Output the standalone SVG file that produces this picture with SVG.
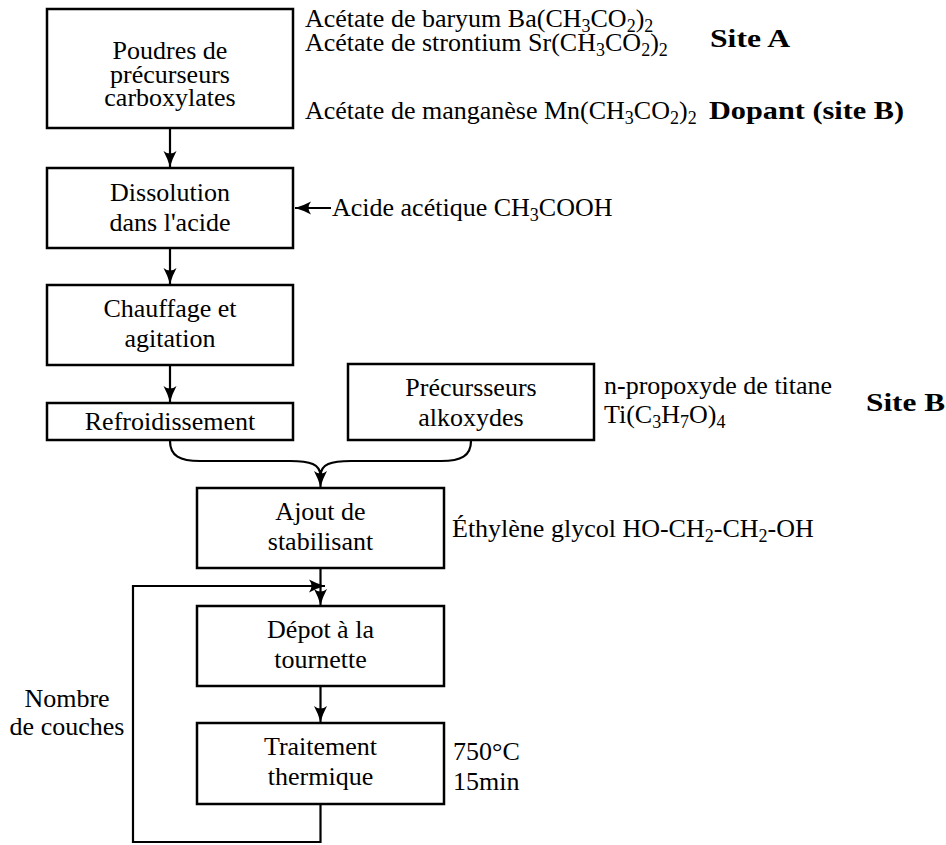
<svg xmlns="http://www.w3.org/2000/svg" width="946" height="845" viewBox="0 0 946 845" font-family="'Liberation Serif', 'DejaVu Serif', serif">
<style>
text{font-family:'Liberation Serif','DejaVu Serif',serif;font-size:26px;fill:#000}
.c{text-anchor:middle}
.b{font-weight:bold}
.sub{font-size:18px}
.box{fill:#fff;stroke:#000;stroke-width:2.5}
.ln{fill:none;stroke:#000;stroke-width:2.2}
</style>
<defs>
<marker id="ah" markerUnits="userSpaceOnUse" viewBox="-17 -7 18 14" refX="0" refY="0" markerWidth="18" markerHeight="14" orient="auto">
<path d="M0,0 Q-8,-2.2 -16,-6.5 Q-11,0 -16,6.5 Q-8,2.2 0,0 Z" fill="#000"/>
</marker>
</defs>
<rect width="946" height="845" fill="#fff"/>

<g id="connectors">
<path class="ln" d="M170,128 L170,167" marker-end="url(#ah)"/>
<path class="ln" d="M170,248 L170,284" marker-end="url(#ah)"/>
<path class="ln" d="M170,365 L170,402" marker-end="url(#ah)"/>
<path class="ln" d="M331,208 L295,208" marker-end="url(#ah)"/>
<path class="ln" d="M170,441 C170,456 180,461 200,461 L290,461 C310,461 320.5,464 320.5,476"/>
<path class="ln" d="M471,441 C471,456 461,461 441,461 L351,461 C331,461 320.5,464 320.5,476"/>
<path class="ln" d="M320.5,470 L320.5,487" marker-end="url(#ah)"/>
<path class="ln" d="M320.5,568 L320.5,605" marker-end="url(#ah)"/>
<path class="ln" d="M320.5,686 L320.5,722" marker-end="url(#ah)"/>
<path class="ln" d="M320.5,804 L320.5,842 L133,842 L133,586 L325,586" marker-end="url(#ah)"/>
</g>

<g id="n1">
<rect class="box" x="47" y="9" width="246" height="119"/>
<text class="c" x="170" y="59">Poudres de</text>
<text class="c" x="170" y="83">précurseurs</text>
<text class="c" x="170" y="106">carboxylates</text>
</g>
<g id="n1-labels">
<text x="305" y="27">Acétate de baryum Ba(CH<tspan class="sub" dy="5">3</tspan><tspan dy="-5">CO</tspan><tspan class="sub" dy="5">2</tspan><tspan dy="-5">)</tspan><tspan class="sub" dy="5">2</tspan></text>
<text x="305" y="51">Acétate de strontium Sr(CH<tspan class="sub" dy="5">3</tspan><tspan dy="-5">CO</tspan><tspan class="sub" dy="5">2</tspan><tspan dy="-5">)</tspan><tspan class="sub" dy="5">2</tspan></text>
<text x="305" y="119">Acétate de manganèse Mn(CH<tspan class="sub" dy="5">3</tspan><tspan dy="-5">CO</tspan><tspan class="sub" dy="5">2</tspan><tspan dy="-5">)</tspan><tspan class="sub" dy="5">2</tspan></text>
<text class="b" x="710" y="47" textLength="80" lengthAdjust="spacingAndGlyphs">Site A</text>
<text class="b" x="709" y="119" textLength="195" lengthAdjust="spacingAndGlyphs">Dopant (site B)</text>
</g>

<g id="n2">
<rect class="box" x="47" y="168" width="246" height="80"/>
<text class="c" x="170" y="201">Dissolution</text>
<text class="c" x="170" y="231">dans l'acide</text>
</g>
<g id="n2-label">
<text x="332" y="216">Acide acétique CH<tspan class="sub" dy="5">3</tspan><tspan dy="-5">COOH</tspan></text>
</g>

<g id="n3">
<rect class="box" x="47" y="285" width="246" height="80"/>
<text class="c" x="170" y="317">Chauffage et</text>
<text class="c" x="170" y="347">agitation</text>
</g>

<g id="n4">
<rect class="box" x="47" y="403" width="246" height="37"/>
<text class="c" x="170" y="430">Refroidissement</text>
</g>

<g id="n5">
<rect class="box" x="348" y="364" width="246" height="76"/>
<text class="c" x="471" y="396">Précursseurs</text>
<text class="c" x="471" y="426">alkoxydes</text>
</g>
<g id="n5-labels">
<text x="604" y="394">n-propoxyde de titane</text>
<text x="604" y="423">Ti(C<tspan class="sub" dy="5">3</tspan><tspan dy="-5">H</tspan><tspan class="sub" dy="5">7</tspan><tspan dy="-5">O)</tspan><tspan class="sub" dy="5">4</tspan></text>
<text class="b" x="866" y="411" textLength="79" lengthAdjust="spacingAndGlyphs">Site B</text>
</g>

<g id="n6">
<rect class="box" x="197" y="488" width="247" height="80"/>
<text class="c" x="320.5" y="520">Ajout de</text>
<text class="c" x="320.5" y="550">stabilisant</text>
</g>
<g id="n6-label">
<text x="452" y="537">Éthylène glycol HO-CH<tspan class="sub" dy="5">2</tspan><tspan dy="-5">-CH</tspan><tspan class="sub" dy="5">2</tspan><tspan dy="-5">-OH</tspan></text>
</g>

<g id="n7">
<rect class="box" x="197" y="606" width="247" height="80"/>
<text class="c" x="320.5" y="638">Dépot à la</text>
<text class="c" x="320.5" y="668">tournette</text>
</g>

<g id="n8">
<rect class="box" x="197" y="723" width="247" height="81"/>
<text class="c" x="320.5" y="755">Traitement</text>
<text class="c" x="320.5" y="785">thermique</text>
</g>
<g id="n8-labels">
<text x="453" y="760">750°C</text>
<text x="453" y="790">15min</text>
</g>

<g id="loop-label">
<text class="c" x="67" y="707">Nombre</text>
<text class="c" x="67" y="735">de couches</text>
</g>
</svg>
